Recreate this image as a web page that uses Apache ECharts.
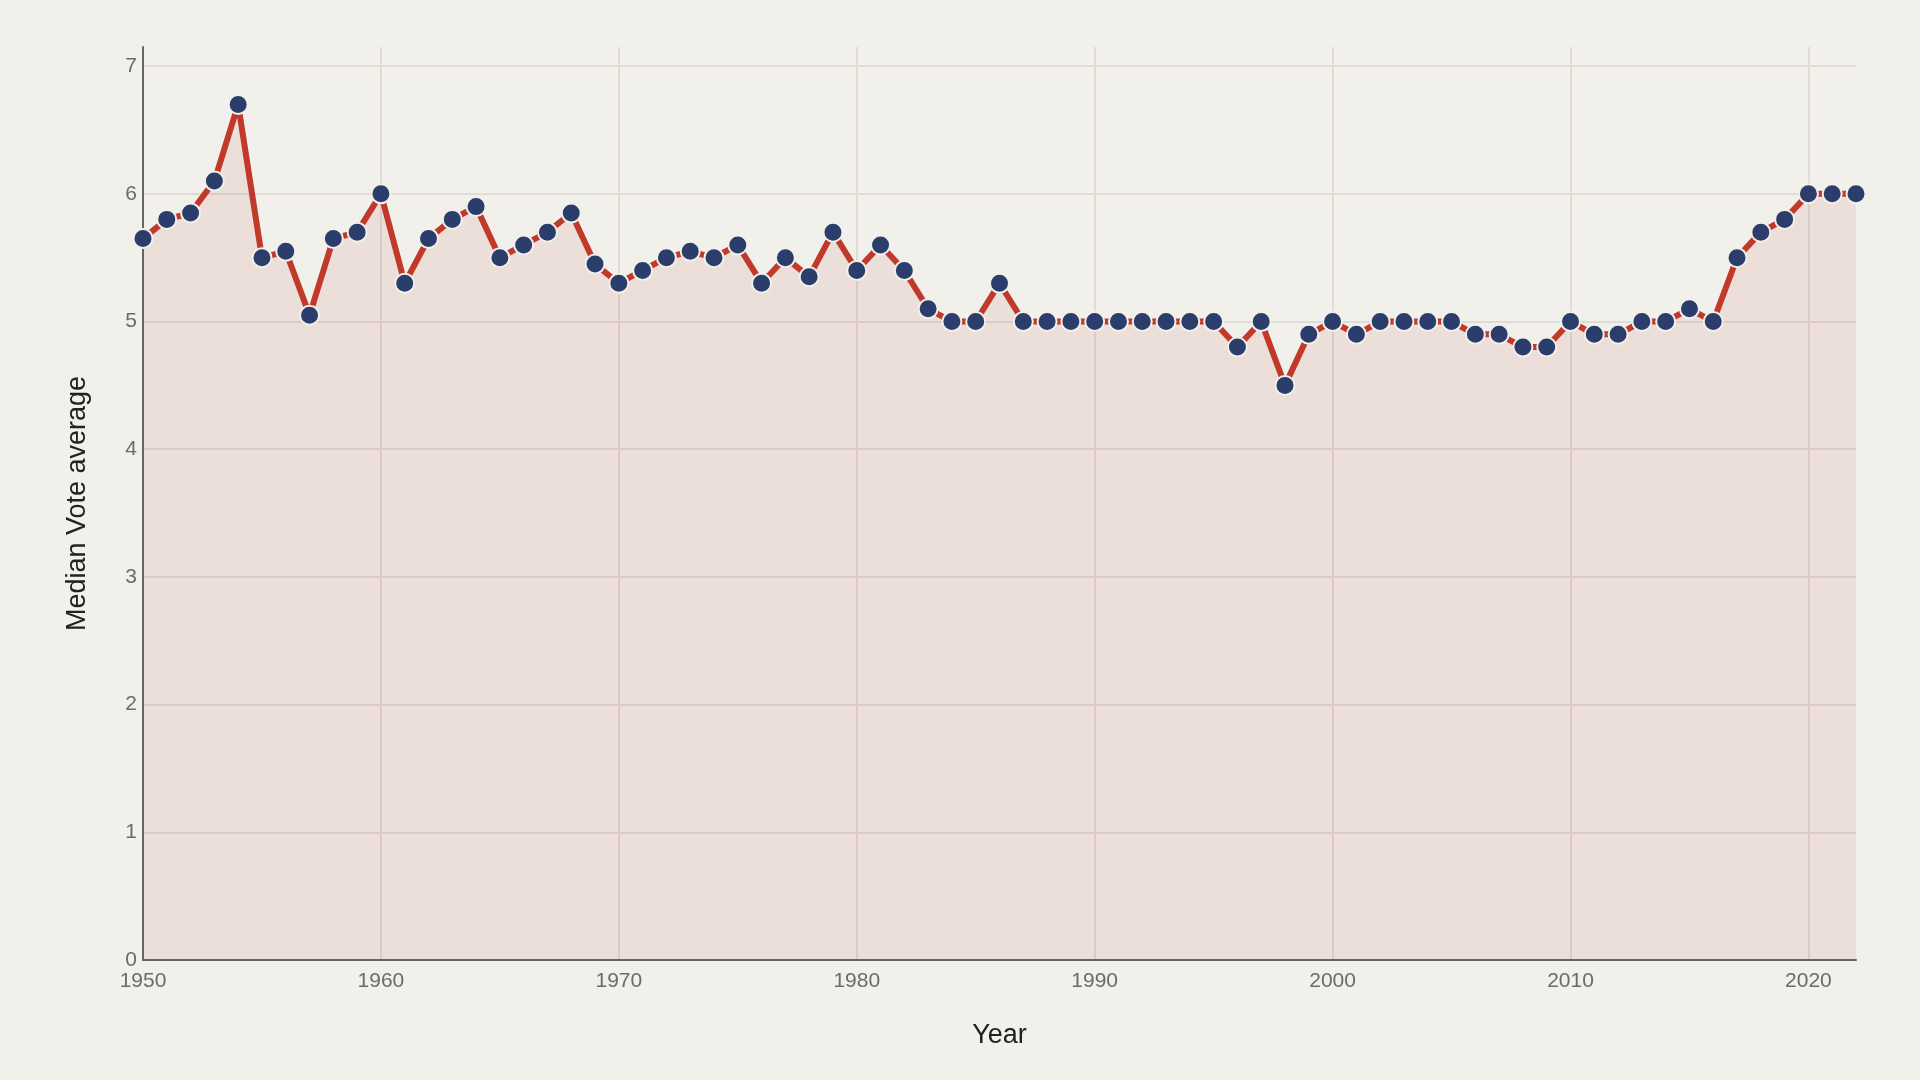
<!DOCTYPE html>
<html>
<head>
<meta charset="utf-8">
<script src="https://cdn.jsdelivr.net/npm/echarts@6/dist/echarts.min.js"></script>
<style>
  html, body { margin: 0; padding: 0; background: #f1f0eb; }
  #chart { width: 1920px; height: 1080px; }
</style>
</head>
<body>
<div id="chart"></div>
<script>
// years 1950..2022, one median per year
const years = [
  1950, 1951, 1952, 1953, 1954, 1955, 1956, 1957, 1958, 1959,
  1960, 1961, 1962, 1963, 1964, 1965, 1966, 1967, 1968, 1969,
  1970, 1971, 1972, 1973, 1974, 1975, 1976, 1977, 1978, 1979,
  1980, 1981, 1982, 1983, 1984, 1985, 1986, 1987, 1988, 1989,
  1990, 1991, 1992, 1993, 1994, 1995, 1996, 1997, 1998, 1999,
  2000, 2001, 2002, 2003, 2004, 2005, 2006, 2007, 2008, 2009,
  2010, 2011, 2012, 2013, 2014, 2015, 2016, 2017, 2018, 2019,
  2020, 2021, 2022
];
const medianVote = [
  5.65, 5.8, 5.85, 6.1, 6.7, 5.5, 5.55, 5.05, 5.65, 5.7,
  6.0, 5.3, 5.65, 5.8, 5.9, 5.5, 5.6, 5.7, 5.85, 5.45,
  5.3, 5.4, 5.5, 5.55, 5.5, 5.6, 5.3, 5.5, 5.35, 5.7,
  5.4, 5.6, 5.4, 5.1, 5.0, 5.0, 5.3, 5.0, 5.0, 5.0,
  5.0, 5.0, 5.0, 5.0, 5.0, 5.0, 4.8, 5.0, 4.5, 4.9,
  5.0, 4.9, 5.0, 5.0, 5.0, 5.0, 4.9, 4.9, 4.8, 4.8,
  5.0, 4.9, 4.9, 5.0, 5.0, 5.1, 5.0, 5.5, 5.7, 5.8,
  6.0, 6.0, 6.0
];

const chart = echarts.init(document.getElementById('chart'));

const font = 'Liberation Sans, Arial, sans-serif';
const gridLine = { show: true, showMaxLine: false, lineStyle: { color: '#dfdbd5', width: 2 } };
const tickLabel = { color: '#6b6b6b', fontSize: 21, fontFamily: font };
const axisName = { color: '#222', fontSize: 27, fontFamily: font };

const option = {
  backgroundColor: '#f1f0eb',
  animation: false,
  grid: { left: 143, right: 64, top: 47, bottom: 120 },
  xAxis: {
    type: 'value',
    min: 1950,
    max: 2022,
    interval: 10,
    name: 'Year',
    nameLocation: 'middle',
    nameGap: 62,
    nameTextStyle: axisName,
    axisLine: { show: true, lineStyle: { color: '#666', width: 2 } },
    axisTick: { show: false },
    axisLabel: Object.assign({ showMaxLabel: false, margin: 11, formatter: v => String(v) }, tickLabel),
    splitLine: gridLine
  },
  yAxis: {
    type: 'value',
    min: 0,
    max: 7.15,
    interval: 1,
    name: 'Median Vote average',
    nameLocation: 'middle',
    nameGap: 52,
    nameTextStyle: axisName,
    axisLine: { show: true, lineStyle: { color: '#666', width: 2 } },
    axisTick: { show: false },
    axisLabel: Object.assign({ showMaxLabel: false, margin: 6 }, tickLabel),
    splitLine: gridLine
  },
  series: [{
    type: 'line',
    data: years.map((y, i) => [y, medianVote[i]]),
    symbol: 'circle',
    symbolSize: 19,
    lineStyle: { color: '#c0392b', width: 6 },
    itemStyle: { color: '#2b3d6b', borderColor: '#f1f0eb', borderWidth: 2 },
    areaStyle: { color: 'rgba(192, 57, 43, 0.14)' },
    z: 3
  }]
};

chart.setOption(option);
</script>
</body>
</html>
